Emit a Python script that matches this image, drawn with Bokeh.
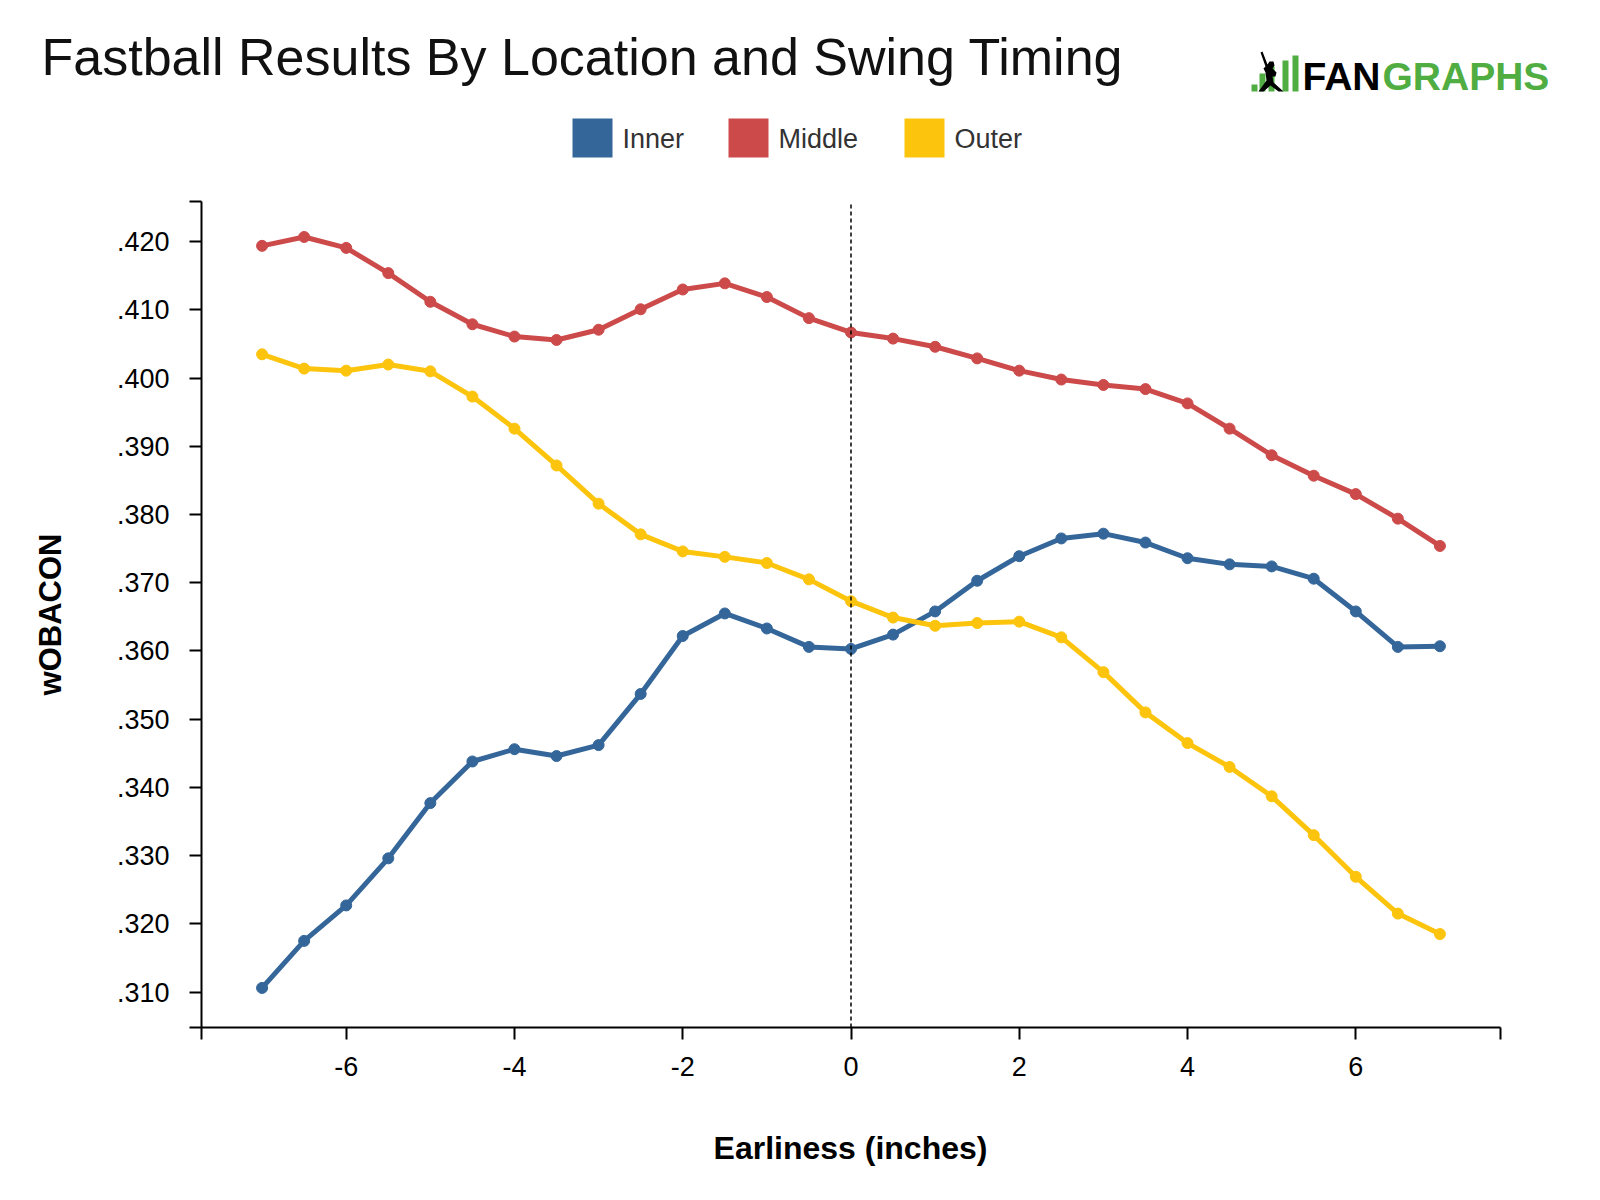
import math

from bokeh.embed import file_html
from bokeh.models import (
    BoxAnnotation,
    CustomJSTickFormatter,
    FixedTicker,
    Label,
    PolyAnnotation,
    Range1d,
)
from bokeh.plotting import figure
from bokeh.resources import INLINE


# swing earliness (inches) and wOBACON per horizontal location
EARLINESS = [-7.0, -6.5, -6.0, -5.5, -5.0, -4.5, -4.0, -3.5, -3.0, -2.5,
             -2.0, -1.5, -1.0, -0.5, 0.0, 0.5, 1.0, 1.5, 2.0, 2.5,
             3.0, 3.5, 4.0, 4.5, 5.0, 5.5, 6.0, 6.5, 7.0]
INNER = [0.3106, 0.3175, 0.3227, 0.3296, 0.3377, 0.3438, 0.3456, 0.3446, 0.3462, 0.3537,
         0.3622, 0.3655, 0.3633, 0.3606, 0.3603, 0.3624, 0.3658, 0.3703, 0.3739, 0.3765,
         0.3772, 0.3759, 0.3736, 0.3727, 0.3724, 0.3706, 0.3658, 0.3606, 0.3607]
MIDDLE = [0.4194, 0.4207, 0.4191, 0.4154, 0.4112, 0.4079, 0.4061, 0.4056, 0.4071, 0.4101,
          0.4130, 0.4139, 0.4119, 0.4088, 0.4067, 0.4058, 0.4046, 0.4029, 0.4011, 0.3998,
          0.3990, 0.3984, 0.3963, 0.3926, 0.3887, 0.3857, 0.3830, 0.3794, 0.3754]
OUTER = [0.4035, 0.4014, 0.4011, 0.4020, 0.4010, 0.3973, 0.3926, 0.3872, 0.3816, 0.3771,
         0.3746, 0.3738, 0.3729, 0.3705, 0.3673, 0.3649, 0.3637, 0.3641, 0.3643, 0.3620,
         0.3569, 0.3510, 0.3465, 0.3430, 0.3387, 0.3330, 0.3269, 0.3215, 0.3185]

SERIES_NAMES = ["Inner", "Middle", "Outer"]
SERIES_COLORS = ["#34669a", "#cd4a4a", "#fcc40d"]

X_TICKS = [-6, -4, -2, 0, 2, 4, 6]
Y_TICKS = [0.31, 0.32, 0.33, 0.34, 0.35, 0.36, 0.37, 0.38, 0.39, 0.40, 0.41, 0.42]
X_LIMITS = (-7.72, 7.72)
Y_LIMITS = (0.3048, 0.4259)

TITLE = "Fastball Results By Location and Swing Timing"
X_LABEL = "Earliness (inches)"
Y_LABEL = "wOBACON"

FONT = "Liberation Sans"
LOGO_GREEN = "#50ad42"

# page layout in px (y down); the frame covers the whole page and the
# axes are pinned to the plot-area edges with fixed_location
PAGE_W, PAGE_H = 1592, 1192
AREA_LEFT, AREA_RIGHT, AREA_TOP, AREA_BOTTOM = 201, 1500, 201, 1027


def sx(px):
    return px


def sy(py):
    return PAGE_H - py


x_per_px = (X_LIMITS[1] - X_LIMITS[0]) / (AREA_RIGHT - AREA_LEFT)
y_per_px = (Y_LIMITS[1] - Y_LIMITS[0]) / (AREA_BOTTOM - AREA_TOP)
x_range = Range1d(X_LIMITS[0] - AREA_LEFT * x_per_px,
                  X_LIMITS[1] + (PAGE_W - AREA_RIGHT) * x_per_px)
y_range = Range1d(Y_LIMITS[0] - (PAGE_H - AREA_BOTTOM) * y_per_px,
                  Y_LIMITS[1] + AREA_TOP * y_per_px)

p = figure(
    width=PAGE_W,
    height=PAGE_H,
    min_border=0,
    x_range=x_range,
    y_range=y_range,
    tools="",
    toolbar_location=None,
    output_backend="svg",
)
p.outline_line_color = None
p.grid.visible = False
p.background_fill_color = "white"
p.border_fill_color = "white"

# axes: range ends get a blank tick so the domain has outer ticks like d3
p.xaxis.fixed_location = Y_LIMITS[0]
p.xaxis.bounds = X_LIMITS
p.xaxis.ticker = FixedTicker(ticks=[X_LIMITS[0]] + X_TICKS + [X_LIMITS[1]])
p.xaxis.formatter = CustomJSTickFormatter(
    code="return Number.isInteger(tick) ? tick.toString() : '';"
)
p.yaxis.fixed_location = X_LIMITS[0]
p.yaxis.bounds = Y_LIMITS
p.yaxis.ticker = FixedTicker(ticks=[Y_LIMITS[0]] + Y_TICKS + [Y_LIMITS[1]])
p.yaxis.formatter = CustomJSTickFormatter(code="""
    const c = Math.round(tick * 1000);
    return (Math.abs(tick * 1000 - c) < 1e-6 && c % 10 == 0) ? '.' + c : '';
""")
for axis in (p.xaxis, p.yaxis):
    axis.axis_line_color = "black"
    axis.axis_line_width = 2
    axis.major_tick_line_color = "black"
    axis.major_tick_line_width = 2
    axis.major_tick_out = 12
    axis.major_tick_in = 0
    axis.minor_tick_out = 0
    axis.minor_tick_in = 0
    axis.major_label_text_font = FONT
    axis.major_label_text_font_size = "27px"
    axis.major_label_text_color = "black"
p.xaxis.major_label_standoff = 17
p.yaxis.major_label_standoff = 20

for color, values in zip(SERIES_COLORS, [INNER, MIDDLE, OUTER]):
    p.line(EARLINESS, values, line_color=color, line_width=5, line_join="round")
    p.scatter(EARLINESS, values, size=11, fill_color=color, line_color=color)

# dotted reference line at zero earliness
p.segment(x0=[0], y0=[Y_LIMITS[0]], x1=[0], y1=[Y_LIMITS[1]],
          line_color="black", line_width=1.5, line_dash="4 3")

# title and axis titles
p.add_layout(Label(x=sx(41), y=sy(56), x_units="screen", y_units="screen", text=TITLE,
                   text_font=FONT, text_font_size="52px", text_color="#111111",
                   text_baseline="alphabetic"))
p.add_layout(Label(x=sx(850), y=sy(1147), x_units="screen", y_units="screen", text=X_LABEL,
                   text_font=FONT, text_font_size="32px", text_font_style="bold",
                   text_color="black", text_align="center", text_baseline="alphabetic"))
p.add_layout(Label(x=sx(50), y=sy(614), x_units="screen", y_units="screen", text=Y_LABEL,
                   angle=math.pi / 2, text_font=FONT, text_font_size="31px",
                   text_font_style="bold", text_color="black", text_align="center",
                   text_baseline="middle"))

# legend: colour squares and names
legend_box_left = [572, 728, 904]
for name, color, left in zip(SERIES_NAMES, SERIES_COLORS, legend_box_left):
    p.add_layout(BoxAnnotation(left=sx(left), right=sx(left + 40), top=sy(118), bottom=sy(157),
                               left_units="screen", right_units="screen",
                               top_units="screen", bottom_units="screen",
                               fill_color=color, fill_alpha=1, line_color=None))
    p.add_layout(Label(x=sx(left + 50), y=sy(138), x_units="screen", y_units="screen",
                       text=name, text_font=FONT, text_font_size="27px",
                       text_color="#333333", text_baseline="middle"))

# FanGraphs logo: bar icon, batter silhouette, wordmark
for left, top in [(1251, 84), (1259, 73), (1268, 66), (1282, 60), (1292, 55)]:
    p.add_layout(BoxAnnotation(left=sx(left), right=sx(left + 6), top=sy(top), bottom=sy(91),
                               left_units="screen", right_units="screen",
                               top_units="screen", bottom_units="screen",
                               fill_color=LOGO_GREEN, fill_alpha=1, line_color=None))
batter = [(1260, 52), (1262, 51), (1267, 64), (1269, 61), (1273, 61), (1274, 65), (1272, 68),
          (1276, 72), (1275, 76), (1272, 76), (1273, 82), (1283, 91), (1278, 91), (1270, 85),
          (1263, 91), (1258, 91), (1266, 80), (1265, 72), (1263, 68), (1265, 66)]
p.add_layout(PolyAnnotation(xs=[sx(x) for x, _ in batter], ys=[sy(y) for _, y in batter],
                            xs_units="screen", ys_units="screen",
                            fill_color="black", fill_alpha=1, line_color=None))
p.add_layout(Label(x=sx(1302), y=sy(76), x_units="screen", y_units="screen", text="FAN",
                   text_font=FONT, text_font_size="39px", text_font_style="bold",
                   text_color="black", text_baseline="alphabetic"))
p.add_layout(Label(x=sx(1382), y=sy(76), x_units="screen", y_units="screen", text="GRAPHS",
                   text_font=FONT, text_font_size="39px", text_font_style="bold",
                   text_color=LOGO_GREEN, text_baseline="alphabetic"))

open("out.html", "w").write(file_html(p, INLINE))
